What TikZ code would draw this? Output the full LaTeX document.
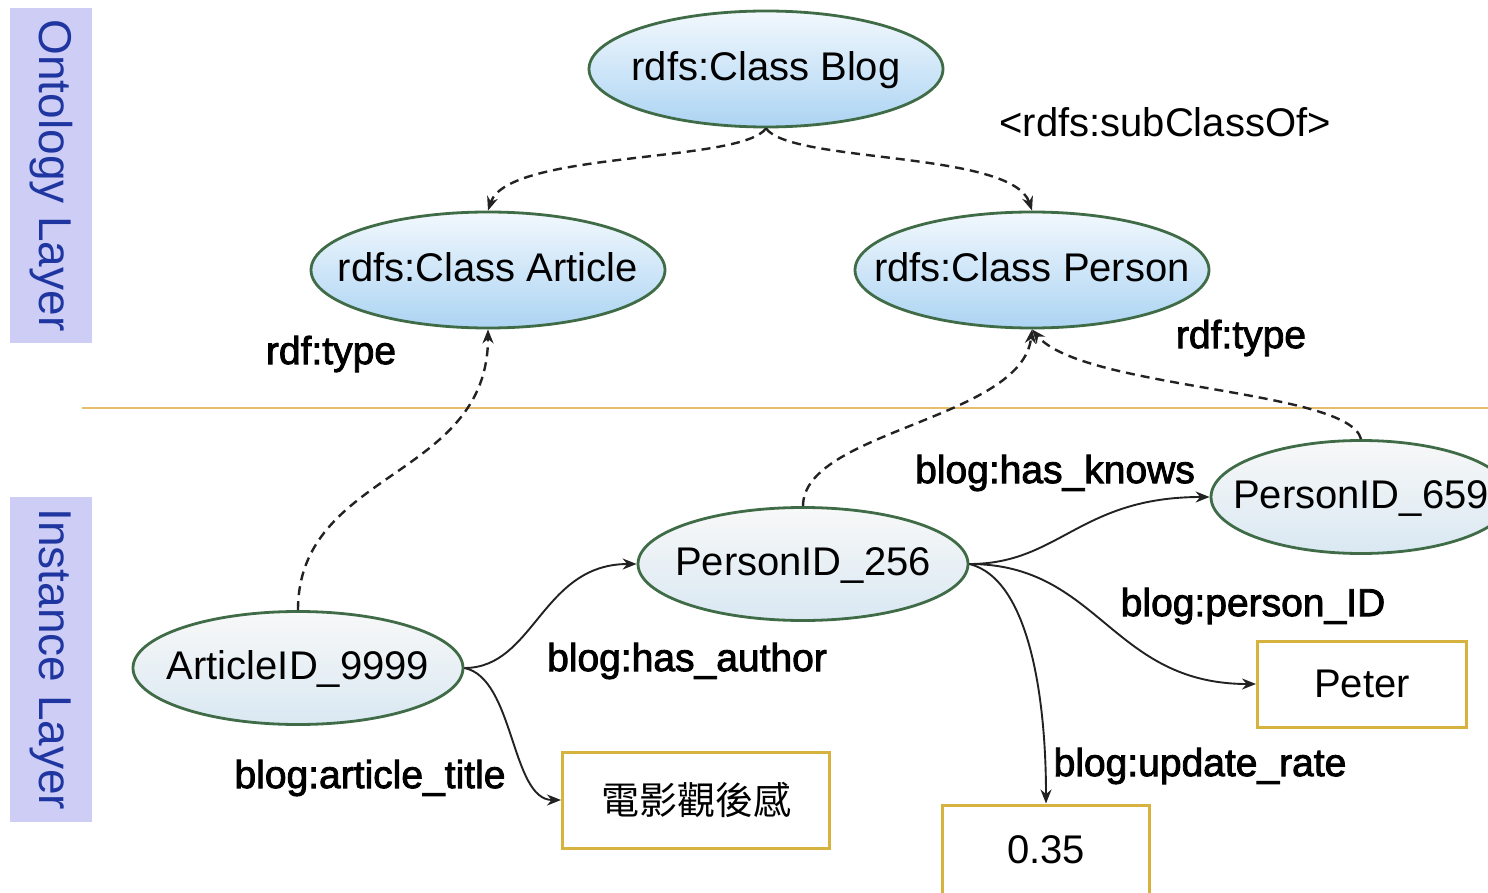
\documentclass[tikz,border=0pt]{standalone}
\usepackage{fontspec}
\setmainfont{Liberation Sans}
\newfontfamily\lblfont[FakeBold=2.2]{Liberation Sans}
\newfontfamily\cjkfont{Noto Sans CJK TC}
\usetikzlibrary{shapes.geometric,arrows.meta}

\definecolor{rimgreen}{HTML}{3F6B47}
\definecolor{skytop}{HTML}{F2F8FD}
\definecolor{skymid}{HTML}{D2E7F8}
\definecolor{skybot}{HTML}{ACD4F3}
\definecolor{pearltop}{HTML}{F8F8F8}
\definecolor{pearlmid}{HTML}{EFF2F4}
\definecolor{pearlbot}{HTML}{D9E8F2}
\definecolor{goldrim}{HTML}{D6B23E}
\definecolor{lavender}{HTML}{CDCDF6}
\definecolor{layerink}{HTML}{1F36A0}
\definecolor{divider}{HTML}{E6BE6A}
\definecolor{ink}{HTML}{222222}

\tikzset{
  classnode/.style={ellipse, draw=rimgreen, line width=2.8pt,
    inner xsep=-70pt, inner ysep=0pt,
    minimum width=354pt, minimum height=116pt,
    top color=skytop, middle color=skymid, bottom color=skybot,
    font=\fontsize{40}{48}\selectfont, text height=29pt, text depth=6pt},
  instnode/.style={ellipse, draw=rimgreen, line width=2.8pt,
    inner xsep=-70pt, inner ysep=0pt,
    minimum width=330pt, minimum height=113pt,
    top color=pearltop, middle color=pearlmid, bottom color=pearlbot,
    font=\fontsize{40}{48}\selectfont, text height=29pt, text depth=6pt},
  litbox/.style={rectangle, draw=goldrim, line width=3pt, fill=white, inner sep=0pt,
    font=\fontsize{40}{48}\selectfont},
  layerbox/.style={rectangle, fill=lavender, inner sep=0pt, minimum height=82pt,
    text=layerink, font=\fontsize{46}{54}\selectfont, rotate=-90},
  edgelabel/.style={inner sep=0pt, font=\lblfont\fontsize{39}{46}\selectfont},
  typelink/.style={draw=ink, line width=2.4pt, dash pattern=on 9pt off 6pt,
    -{Stealth[length=14pt,width=11pt]}},
  proplink/.style={draw=ink, line width=1.9pt, -{Stealth[length=14pt,width=11pt]}}
}

\begin{document}
\begin{tikzpicture}[x=1pt,y=-1pt]
\useasboundingbox (0,0) rectangle (1488,893);

% layer captions
\node[layerbox, minimum width=335pt] (ontlayer) at (51,175.5) {Ontology Layer};
\node[layerbox, minimum width=325pt] (instlayer) at (51,659.5) {Instance Layer};

% boundary between the two layers
\coordinate (divL) at (82,408);
\coordinate (divR) at (1488,408);
\draw[divider, line width=2pt] (divL) -- (divR);

% ontology layer classes
\node[classnode] (blog) at (766,69) {rdfs:Class Blog};
\node[classnode] (article) at (488,270) {rdfs:Class Article};
\node[classnode] (person) at (1032,270) {rdfs:Class Person};

% instance layer resources
\node[instnode] (art9999) at (298,668) {ArticleID\_9999};
\node[instnode] (p256) at (803,564) {PersonID\_256};
\node[instnode, minimum width=300pt] (p659) at (1361,497) {PersonID\_659};

% literal values
\node[litbox, minimum width=267pt, minimum height=96pt] (title) at (696,800) {\cjkfont\fontsize{38}{46}\selectfont 電影觀後感};
\node[litbox, minimum width=209pt, minimum height=86pt] (peter) at (1362,684) {Peter};
\node[litbox, minimum width=207pt, minimum height=90pt] (rate) at (1046,850) {0.35};

% subclass links
\draw[typelink] (blog.south) .. controls +(-25,35) and +(20,-60) .. (article.north);
\draw[typelink] (blog.south) .. controls +(25,35) and +(-20,-60) .. (person.north);

% type links
\draw[typelink] (art9999.north) .. controls +(0,-140) and +(0,150) .. (article.south);
\draw[typelink] (p256.north) .. controls +(0,-75) and +(-10,90) .. (person.south);
\draw[typelink] (p659.north) .. controls +(-12,-50) and +(50,60) .. (person.south);

% property links
\draw[proplink] (art9999.east) .. controls +(70,0) and +(-95,0) .. (p256.west);
\draw[proplink] (art9999.east) .. controls +(50,10) and +(-50,0) .. (title.west);
\draw[proplink] (p256.east) .. controls +(90,0) and +(-130,0) .. (p659.west);
\draw[proplink] (p256.east) .. controls +(130,0) and +(-145,0) .. (peter.west);
\draw[proplink] (p256.east) .. controls +(60,15) and +(0,-105) .. (rate.north);

% link labels
\node[inner sep=0pt, font=\fontsize{40}{48}\selectfont] (subcls) at (1165,122) {<rdfs:subClassOf>};
\node[edgelabel] (typeL) at (331,354) {rdf:type};
\node[edgelabel] (typeR) at (1241,338) {rdf:type};
\node[edgelabel] (knows) at (1055,473) {blog:has\_knows};
\node[edgelabel] (pid) at (1253,606) {blog:person\_ID};
\node[edgelabel] (author) at (687,661) {blog:has\_author};
\node[edgelabel] (atitle) at (370,778) {blog:article\_title};
\node[edgelabel] (urate) at (1200,766) {blog:update\_rate};
\end{tikzpicture}
\end{document}
